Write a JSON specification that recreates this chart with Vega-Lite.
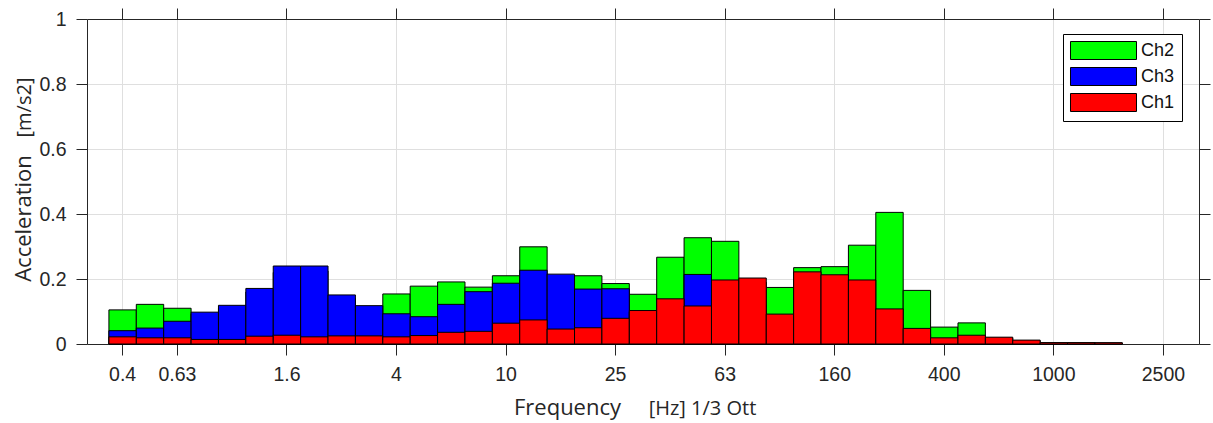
{
  "$schema": "https://vega.github.io/schema/vega-lite/v6.json",
  "autosize": {"type": "none"},
  "padding": {"left": 87, "top": 19, "right": 14, "bottom": 79},
  "width": 1112,
  "height": 325,
  "background": "white",
  "config": {
    "view": {"stroke": null},
    "axis": {
      "domainColor": "#262626",
      "tickColor": "#262626",
      "labelColor": "#262626",
      "titleColor": "#262626",
      "labelFont": "Liberation Sans",
      "labelFontSize": 19.5,
      "titleFont": "Open Sans",
      "titleFontWeight": "normal",
      "tickSize": 11,
      "labelPadding": 10,
      "gridColor": "#dfdfdf",
      "gridWidth": 1
    },
    "legend": {
      "labelFont": "Liberation Sans",
      "labelFontSize": 18,
      "labelColor": "#111111"
    }
  },
  "datasets": {
    "acc": [
      {"f": "0.4", "ch": "Ch2", "v": 0.105}, {"f": "0.5", "ch": "Ch2", "v": 0.122}, {"f": "0.63", "ch": "Ch2", "v": 0.110},
      {"f": "0.8", "ch": "Ch2", "v": 0.092}, {"f": "1", "ch": "Ch2", "v": 0.110}, {"f": "1.25", "ch": "Ch2", "v": 0.160},
      {"f": "1.6", "ch": "Ch2", "v": 0.220}, {"f": "2", "ch": "Ch2", "v": 0.225}, {"f": "2.5", "ch": "Ch2", "v": 0.140},
      {"f": "3.15", "ch": "Ch2", "v": 0.110}, {"f": "4", "ch": "Ch2", "v": 0.154}, {"f": "5", "ch": "Ch2", "v": 0.178},
      {"f": "6.3", "ch": "Ch2", "v": 0.191}, {"f": "8", "ch": "Ch2", "v": 0.175}, {"f": "10", "ch": "Ch2", "v": 0.210},
      {"f": "12.5", "ch": "Ch2", "v": 0.299}, {"f": "16", "ch": "Ch2", "v": 0.200}, {"f": "20", "ch": "Ch2", "v": 0.210},
      {"f": "25", "ch": "Ch2", "v": 0.186}, {"f": "31.5", "ch": "Ch2", "v": 0.153}, {"f": "40", "ch": "Ch2", "v": 0.267},
      {"f": "50", "ch": "Ch2", "v": 0.327}, {"f": "63", "ch": "Ch2", "v": 0.316}, {"f": "80", "ch": "Ch2", "v": 0.190},
      {"f": "100", "ch": "Ch2", "v": 0.174}, {"f": "125", "ch": "Ch2", "v": 0.235}, {"f": "160", "ch": "Ch2", "v": 0.238},
      {"f": "200", "ch": "Ch2", "v": 0.304}, {"f": "250", "ch": "Ch2", "v": 0.405}, {"f": "315", "ch": "Ch2", "v": 0.165},
      {"f": "400", "ch": "Ch2", "v": 0.052}, {"f": "500", "ch": "Ch2", "v": 0.065}, {"f": "630", "ch": "Ch2", "v": 0.018},
      {"f": "800", "ch": "Ch2", "v": 0.010}, {"f": "1000", "ch": "Ch2", "v": 0.004}, {"f": "1250", "ch": "Ch2", "v": 0.004},
      {"f": "1600", "ch": "Ch2", "v": 0.003},

      {"f": "0.4", "ch": "Ch3", "v": 0.041}, {"f": "0.5", "ch": "Ch3", "v": 0.049}, {"f": "0.63", "ch": "Ch3", "v": 0.070},
      {"f": "0.8", "ch": "Ch3", "v": 0.098}, {"f": "1", "ch": "Ch3", "v": 0.119}, {"f": "1.25", "ch": "Ch3", "v": 0.171},
      {"f": "1.6", "ch": "Ch3", "v": 0.240}, {"f": "2", "ch": "Ch3", "v": 0.240}, {"f": "2.5", "ch": "Ch3", "v": 0.151},
      {"f": "3.15", "ch": "Ch3", "v": 0.118}, {"f": "4", "ch": "Ch3", "v": 0.093}, {"f": "5", "ch": "Ch3", "v": 0.084},
      {"f": "6.3", "ch": "Ch3", "v": 0.122}, {"f": "8", "ch": "Ch3", "v": 0.161}, {"f": "10", "ch": "Ch3", "v": 0.187},
      {"f": "12.5", "ch": "Ch3", "v": 0.227}, {"f": "16", "ch": "Ch3", "v": 0.215}, {"f": "20", "ch": "Ch3", "v": 0.169},
      {"f": "25", "ch": "Ch3", "v": 0.170}, {"f": "31.5", "ch": "Ch3", "v": 0.098}, {"f": "40", "ch": "Ch3", "v": 0.120},
      {"f": "50", "ch": "Ch3", "v": 0.214}, {"f": "63", "ch": "Ch3", "v": 0.150}, {"f": "80", "ch": "Ch3", "v": 0.120},
      {"f": "100", "ch": "Ch3", "v": 0.060}, {"f": "125", "ch": "Ch3", "v": 0.090}, {"f": "160", "ch": "Ch3", "v": 0.080},
      {"f": "200", "ch": "Ch3", "v": 0.070}, {"f": "250", "ch": "Ch3", "v": 0.060}, {"f": "315", "ch": "Ch3", "v": 0.030},
      {"f": "400", "ch": "Ch3", "v": 0.012}, {"f": "500", "ch": "Ch3", "v": 0.015}, {"f": "630", "ch": "Ch3", "v": 0.008},
      {"f": "800", "ch": "Ch3", "v": 0.005}, {"f": "1000", "ch": "Ch3", "v": 0.002}, {"f": "1250", "ch": "Ch3", "v": 0.002},
      {"f": "1600", "ch": "Ch3", "v": 0.002},

      {"f": "0.4", "ch": "Ch1", "v": 0.022}, {"f": "0.5", "ch": "Ch1", "v": 0.019}, {"f": "0.63", "ch": "Ch1", "v": 0.019},
      {"f": "0.8", "ch": "Ch1", "v": 0.014}, {"f": "1", "ch": "Ch1", "v": 0.014}, {"f": "1.25", "ch": "Ch1", "v": 0.024},
      {"f": "1.6", "ch": "Ch1", "v": 0.027}, {"f": "2", "ch": "Ch1", "v": 0.022}, {"f": "2.5", "ch": "Ch1", "v": 0.025},
      {"f": "3.15", "ch": "Ch1", "v": 0.025}, {"f": "4", "ch": "Ch1", "v": 0.022}, {"f": "5", "ch": "Ch1", "v": 0.026},
      {"f": "6.3", "ch": "Ch1", "v": 0.036}, {"f": "8", "ch": "Ch1", "v": 0.039}, {"f": "10", "ch": "Ch1", "v": 0.064},
      {"f": "12.5", "ch": "Ch1", "v": 0.074}, {"f": "16", "ch": "Ch1", "v": 0.046}, {"f": "20", "ch": "Ch1", "v": 0.050},
      {"f": "25", "ch": "Ch1", "v": 0.079}, {"f": "31.5", "ch": "Ch1", "v": 0.103}, {"f": "40", "ch": "Ch1", "v": 0.139},
      {"f": "50", "ch": "Ch1", "v": 0.117}, {"f": "63", "ch": "Ch1", "v": 0.197}, {"f": "80", "ch": "Ch1", "v": 0.203},
      {"f": "100", "ch": "Ch1", "v": 0.092}, {"f": "125", "ch": "Ch1", "v": 0.222}, {"f": "160", "ch": "Ch1", "v": 0.213},
      {"f": "200", "ch": "Ch1", "v": 0.197}, {"f": "250", "ch": "Ch1", "v": 0.108}, {"f": "315", "ch": "Ch1", "v": 0.048},
      {"f": "400", "ch": "Ch1", "v": 0.019}, {"f": "500", "ch": "Ch1", "v": 0.027}, {"f": "630", "ch": "Ch1", "v": 0.021},
      {"f": "800", "ch": "Ch1", "v": 0.012}, {"f": "1000", "ch": "Ch1", "v": 0.004}, {"f": "1250", "ch": "Ch1", "v": 0.004},
      {"f": "1600", "ch": "Ch1", "v": 0.004}
    ]
  },
  "data": {"name": "acc"},
  "layer": [
    {
      "transform": [{"filter": "datum.ch === 'Ch2'"}],
      "mark": {"type": "bar", "stroke": "black", "strokeWidth": 1},
      "encoding": {
        "x": {
          "field": "f", "type": "ordinal",
          "scale": {"domain": ["0.4","0.5","0.63","0.8","1","1.25","1.6","2","2.5","3.15","4","5","6.3","8","10","12.5","16","20","25","31.5","40","50","63","80","100","125","160","200","250","315","400","500","630","800","1000","1250","1600","2000","2500"], "paddingInner": 0, "paddingOuter": 0.8},
          "axis": {
            "orient": "bottom",
            "values": ["0.4","0.63","1.6","4","10","25","63","160","400","1000","2500"],
            "labelAngle": 0,
            "grid": true,
            "title": "Frequency",
            "titleFontSize": 22,
            "titleX": 480,
            "titleY": 70,
            "titleAlign": "center",
            "titleBaseline": "alphabetic",
            "titleAnchor": null
          }
        },
        "y": {
          "field": "v", "type": "quantitative", "stack": null,
          "scale": {"domain": [0, 1], "nice": false, "zero": true},
          "axis": {
            "orient": "left",
            "values": [0, 0.2, 0.4, 0.6, 0.8, 1],
            "format": ".1~f",
            "grid": true,
            "title": "Acceleration",
            "titleFontSize": 22,
            "titleAngle": 270,
            "titleX": -57,
            "titleY": 199,
            "titleAlign": "center",
            "titleBaseline": "alphabetic"
          }
        },
        "color": {
          "field": "ch", "type": "nominal",
          "scale": {"domain": ["Ch2", "Ch3", "Ch1"], "range": ["#00ff00", "#0000ff", "#ff0000"]},
          "legend": {
            "title": null,
            "orient": "none",
            "legendX": 976,
            "legendY": 15,
            "strokeColor": "black",
            "fillColor": "white",
            "padding": 7,
            "cornerRadius": 0,
            "symbolType": "M-3.667,-1H3.667V1H-3.667Z",
            "symbolSize": 324,
            "symbolStrokeColor": "black",
            "symbolStrokeWidth": 1,
            "symbolOffset": 24,
            "labelOffset": 28,
            "rowPadding": 3,
            "symbolOpacity": 1
          }
        }
      }
    },
    {
      "transform": [{"filter": "datum.ch === 'Ch3'"}],
      "mark": {"type": "bar", "stroke": "black", "strokeWidth": 1},
      "encoding": {
        "x": {
          "field": "f", "type": "ordinal",
          "axis": {
            "orient": "top",
            "values": ["0.4","0.63","1.6","4","10","25","63","160","400","1000","2500"],
            "labels": false,
            "grid": false,
            "title": "[Hz] 1/3 Ott",
            "titleFontSize": 20,
            "titleX": 615,
            "titleY": 395,
            "titleAlign": "center",
            "titleBaseline": "alphabetic"
          }
        },
        "y": {
          "field": "v", "type": "quantitative", "stack": null,
          "axis": {
            "orient": "right",
            "values": [0, 0.2, 0.4, 0.6, 0.8, 1],
            "labels": false,
            "grid": false,
            "title": "[m/s2]",
            "titleFontSize": 20,
            "titleAngle": 270,
            "titleX": -1169,
            "titleY": 88,
            "titleAlign": "center",
            "titleBaseline": "alphabetic"
          }
        },
        "color": {"field": "ch", "type": "nominal"}
      }
    },
    {
      "transform": [{"filter": "datum.ch === 'Ch1'"}],
      "mark": {"type": "bar", "stroke": "black", "strokeWidth": 1},
      "encoding": {
        "x": {"field": "f", "type": "ordinal", "axis": null},
        "y": {"field": "v", "type": "quantitative", "stack": null, "axis": null},
        "color": {"field": "ch", "type": "nominal"}
      }
    }
  ]
}
